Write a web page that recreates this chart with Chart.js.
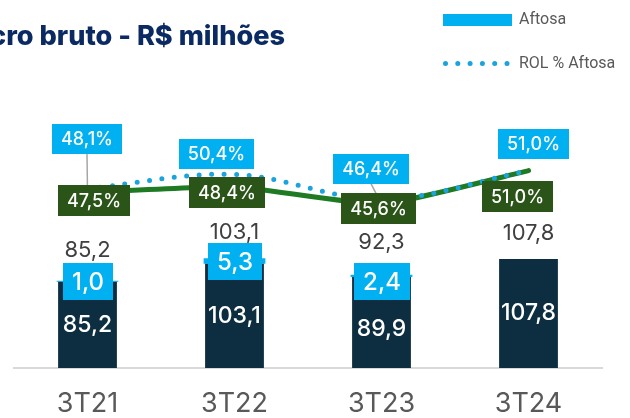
<!DOCTYPE html>
<html>
<head>
<meta charset="utf-8">
<script src="https://cdn.jsdelivr.net/npm/chart.js@4.4.1/dist/chart.umd.min.js"></script>
<style>
  html, body { margin: 0; padding: 0; background: #ffffff; }
  #wrap { position: relative; width: 630px; height: 418px; }
</style>
</head>
<body>
<div id="wrap"><canvas id="c" width="630" height="418"></canvas></div>
<script>
// ---- data ----
const categories = ['3T21', '3T22', '3T23', '3T24'];
const lucroBase = [85.2, 103.1, 89.9, 107.8];
const aftosa = [1.0, 5.3, 2.4, 0];
const totalLabels = [85.2, 103.1, 92.3, 107.8];
const rolPct = [47.5, 48.4, 45.6, 51.0];
const rolPctAftosa = [48.1, 50.4, 46.4, 51.0];
const titleText = 'cro bruto - R$ milhões';
const legendLabels = ['Aftosa', 'ROL % Aftosa'];

// ---- style ----
const C_DARK = '#0d2e40';
const C_BLUE = '#00b0f0';
const C_DOT = '#1ba3dd';
const C_GREEN_LINE = '#1f7a24';
const C_GREEN_BOX = '#2b5418';
const C_TEXT = '#404040';
const C_AXIS_TXT = '#595959';
const FONT = 'Inter, "Noto Sans", sans-serif';
const greenBoxOff = [[6, 8], [-8, 6], [-3.5, 4.3], [-11.5, 25.5]];
const blueBoxOff = [[-0.5, -49.5], [-18.5, -20], [-10.5, -30.5], [4.5, -26.5]];
const connectors = [true, false, true, false];
const totalDy = [-30, -26, -32, -26];
const aftosaBoxDy = [0, 0, 6, 0];
const innerDy = [0, 0, 7, 0];

const fmt = v => v.toFixed(1).replace('.', ',');

function drawBox(ctx, cx, cy, text, fill, font, padX, h) {
  ctx.font = font;
  const w = Math.round(ctx.measureText(text).width + 2 * padX);
  const x = Math.round(cx - w / 2), y = Math.round(cy - h / 2);
  ctx.fillStyle = fill;
  ctx.fillRect(x, y, w, h);
  ctx.fillStyle = '#ffffff';
  ctx.textAlign = 'center';
  ctx.textBaseline = 'middle';
  ctx.fillText(text, x + w / 2, y + h / 2 + 1);
  return { x, y, w, h };
}

const labelPlugin = {
  id: 'labels',
  afterDatasetsDraw(chart) {
    const ctx = chart.ctx;
    const dotMeta = chart.getDatasetMeta(0);
    const greenMeta = chart.getDatasetMeta(1);
    const darkMeta = chart.getDatasetMeta(2);
    const afMeta = chart.getDatasetMeta(3);
    ctx.save();
    categories.forEach((c, i) => {
      const d = darkMeta.data[i];
      const a = afMeta.data[i];
      ctx.font = '500 23px ' + FONT;
      ctx.fillStyle = '#ffffff';
      ctx.textAlign = 'center';
      ctx.textBaseline = 'middle';
      ctx.fillText(fmt(lucroBase[i]), d.x, (d.y + d.base) / 2 + innerDy[i]);
      if (aftosa[i] > 0) {
        drawBox(ctx, a.x, (a.y + a.base) / 2 + aftosaBoxDy[i], fmt(aftosa[i]), C_BLUE, '500 24px ' + FONT, 9, 37);
      }
      const top = Math.min(a.y, d.y);
      ctx.font = '400 22px ' + FONT;
      ctx.fillStyle = C_TEXT;
      ctx.textAlign = 'center';
      ctx.textBaseline = 'middle';
      ctx.fillText(fmt(totalLabels[i]), d.x, top + totalDy[i]);
    });
    categories.forEach((c, i) => {
      const g = greenMeta.data[i];
      const b = dotMeta.data[i];
      const bx = b.x + blueBoxOff[i][0], by = b.y + blueBoxOff[i][1];
      if (connectors[i]) {
        ctx.strokeStyle = '#a6a6a6';
        ctx.lineWidth = 1.5;
        ctx.beginPath();
        ctx.moveTo(bx, by + 15);
        ctx.lineTo(g.x, g.y);
        ctx.stroke();
      }
    });
    categories.forEach((c, i) => {
      const g = greenMeta.data[i];
      const b = dotMeta.data[i];
      drawBox(ctx, g.x + greenBoxOff[i][0], g.y + greenBoxOff[i][1], fmt(rolPct[i]) + '%', C_GREEN_BOX, '500 18px ' + FONT, 9, 31);
      drawBox(ctx, b.x + blueBoxOff[i][0], b.y + blueBoxOff[i][1], fmt(rolPctAftosa[i]) + '%', C_BLUE, '500 18px ' + FONT, 9, 30);
    });
    ctx.restore();
  },
  afterDraw(chart) {
    const ctx = chart.ctx;
    ctx.save();
    // title: starts off the left edge, as in the source; stretched to the source width
    ctx.font = '800 27px ' + FONT;
    const startX = -10, endX = 285;
    const sx = (endX - startX) / ctx.measureText(titleText).width;
    ctx.translate(startX, 45);
    ctx.scale(sx, 1);
    ctx.fillStyle = '#0b2a63';
    ctx.textAlign = 'left';
    ctx.textBaseline = 'alphabetic';
    ctx.fillText(titleText, 0, 0);
    ctx.setTransform(1, 0, 0, 1, 0, 0);
    // legend
    ctx.fillStyle = C_BLUE;
    ctx.fillRect(443, 14, 69, 12);
    ctx.fillStyle = C_DOT;
    for (let k = 0; k < 6; k++) {
      ctx.beginPath();
      ctx.arc(445.5 + k * 12.3, 63.5, 2.5, 0, Math.PI * 2);
      ctx.fill();
    }
    ctx.font = '400 16px Roboto, sans-serif';
    ctx.fillStyle = C_AXIS_TXT;
    ctx.textAlign = 'left';
    ctx.textBaseline = 'middle';
    ctx.fillText(legendLabels[0], 519, 20);
    ctx.fillText(legendLabels[1], 519, 63.5);
    ctx.restore();
  }
};

new Chart(document.getElementById('c'), {
  type: 'bar',
  data: {
    labels: categories,
    datasets: [
      {
        type: 'line', label: legendLabels[1], data: rolPctAftosa, yAxisID: 'y2',
        borderColor: C_DOT, borderWidth: 5, borderDash: [0, 12.5], borderCapStyle: 'round',
        pointRadius: 0, tension: 0.35, fill: false, order: 0
      },
      {
        type: 'line', label: 'ROL %', data: rolPct, yAxisID: 'y2',
        borderColor: C_GREEN_LINE, borderWidth: 5, borderCapStyle: 'round', borderJoinStyle: 'round',
        pointRadius: 0, tension: 0.15, fill: false, order: 1
      },
      {
        type: 'bar', label: 'Lucro bruto', data: lucroBase, yAxisID: 'y', stack: 's',
        backgroundColor: C_DARK, borderWidth: 0, order: 2,
        categoryPercentage: 1, barPercentage: 0.40
      },
      {
        type: 'bar', label: legendLabels[0], data: aftosa, yAxisID: 'y', stack: 's',
        backgroundColor: C_BLUE, borderWidth: 0, order: 3,
        categoryPercentage: 1, barPercentage: 0.42
      }
    ]
  },
  options: {
    responsive: false,
    animation: false,
    devicePixelRatio: 1,
    layout: { padding: { left: 14, right: 28, top: 100, bottom: 0 } },
    plugins: { legend: { display: false }, tooltip: { enabled: false }, title: { display: false } },
    scales: {
      x: {
        stacked: true,
        grid: { display: false, drawTicks: false },
        border: { display: true, color: '#d9d9d9', width: 2 },
        ticks: { color: C_AXIS_TXT, font: { family: FONT, size: 27 }, padding: 20 },
        afterFit(scale) { scale.height = 50; }
      },
      y: { stacked: true, display: false, min: 0, max: 265 },
      y2: { display: false, min: 19.15, max: 62.4, position: 'right' }
    }
  },
  plugins: [labelPlugin]
});
</script>
</body>
</html>
